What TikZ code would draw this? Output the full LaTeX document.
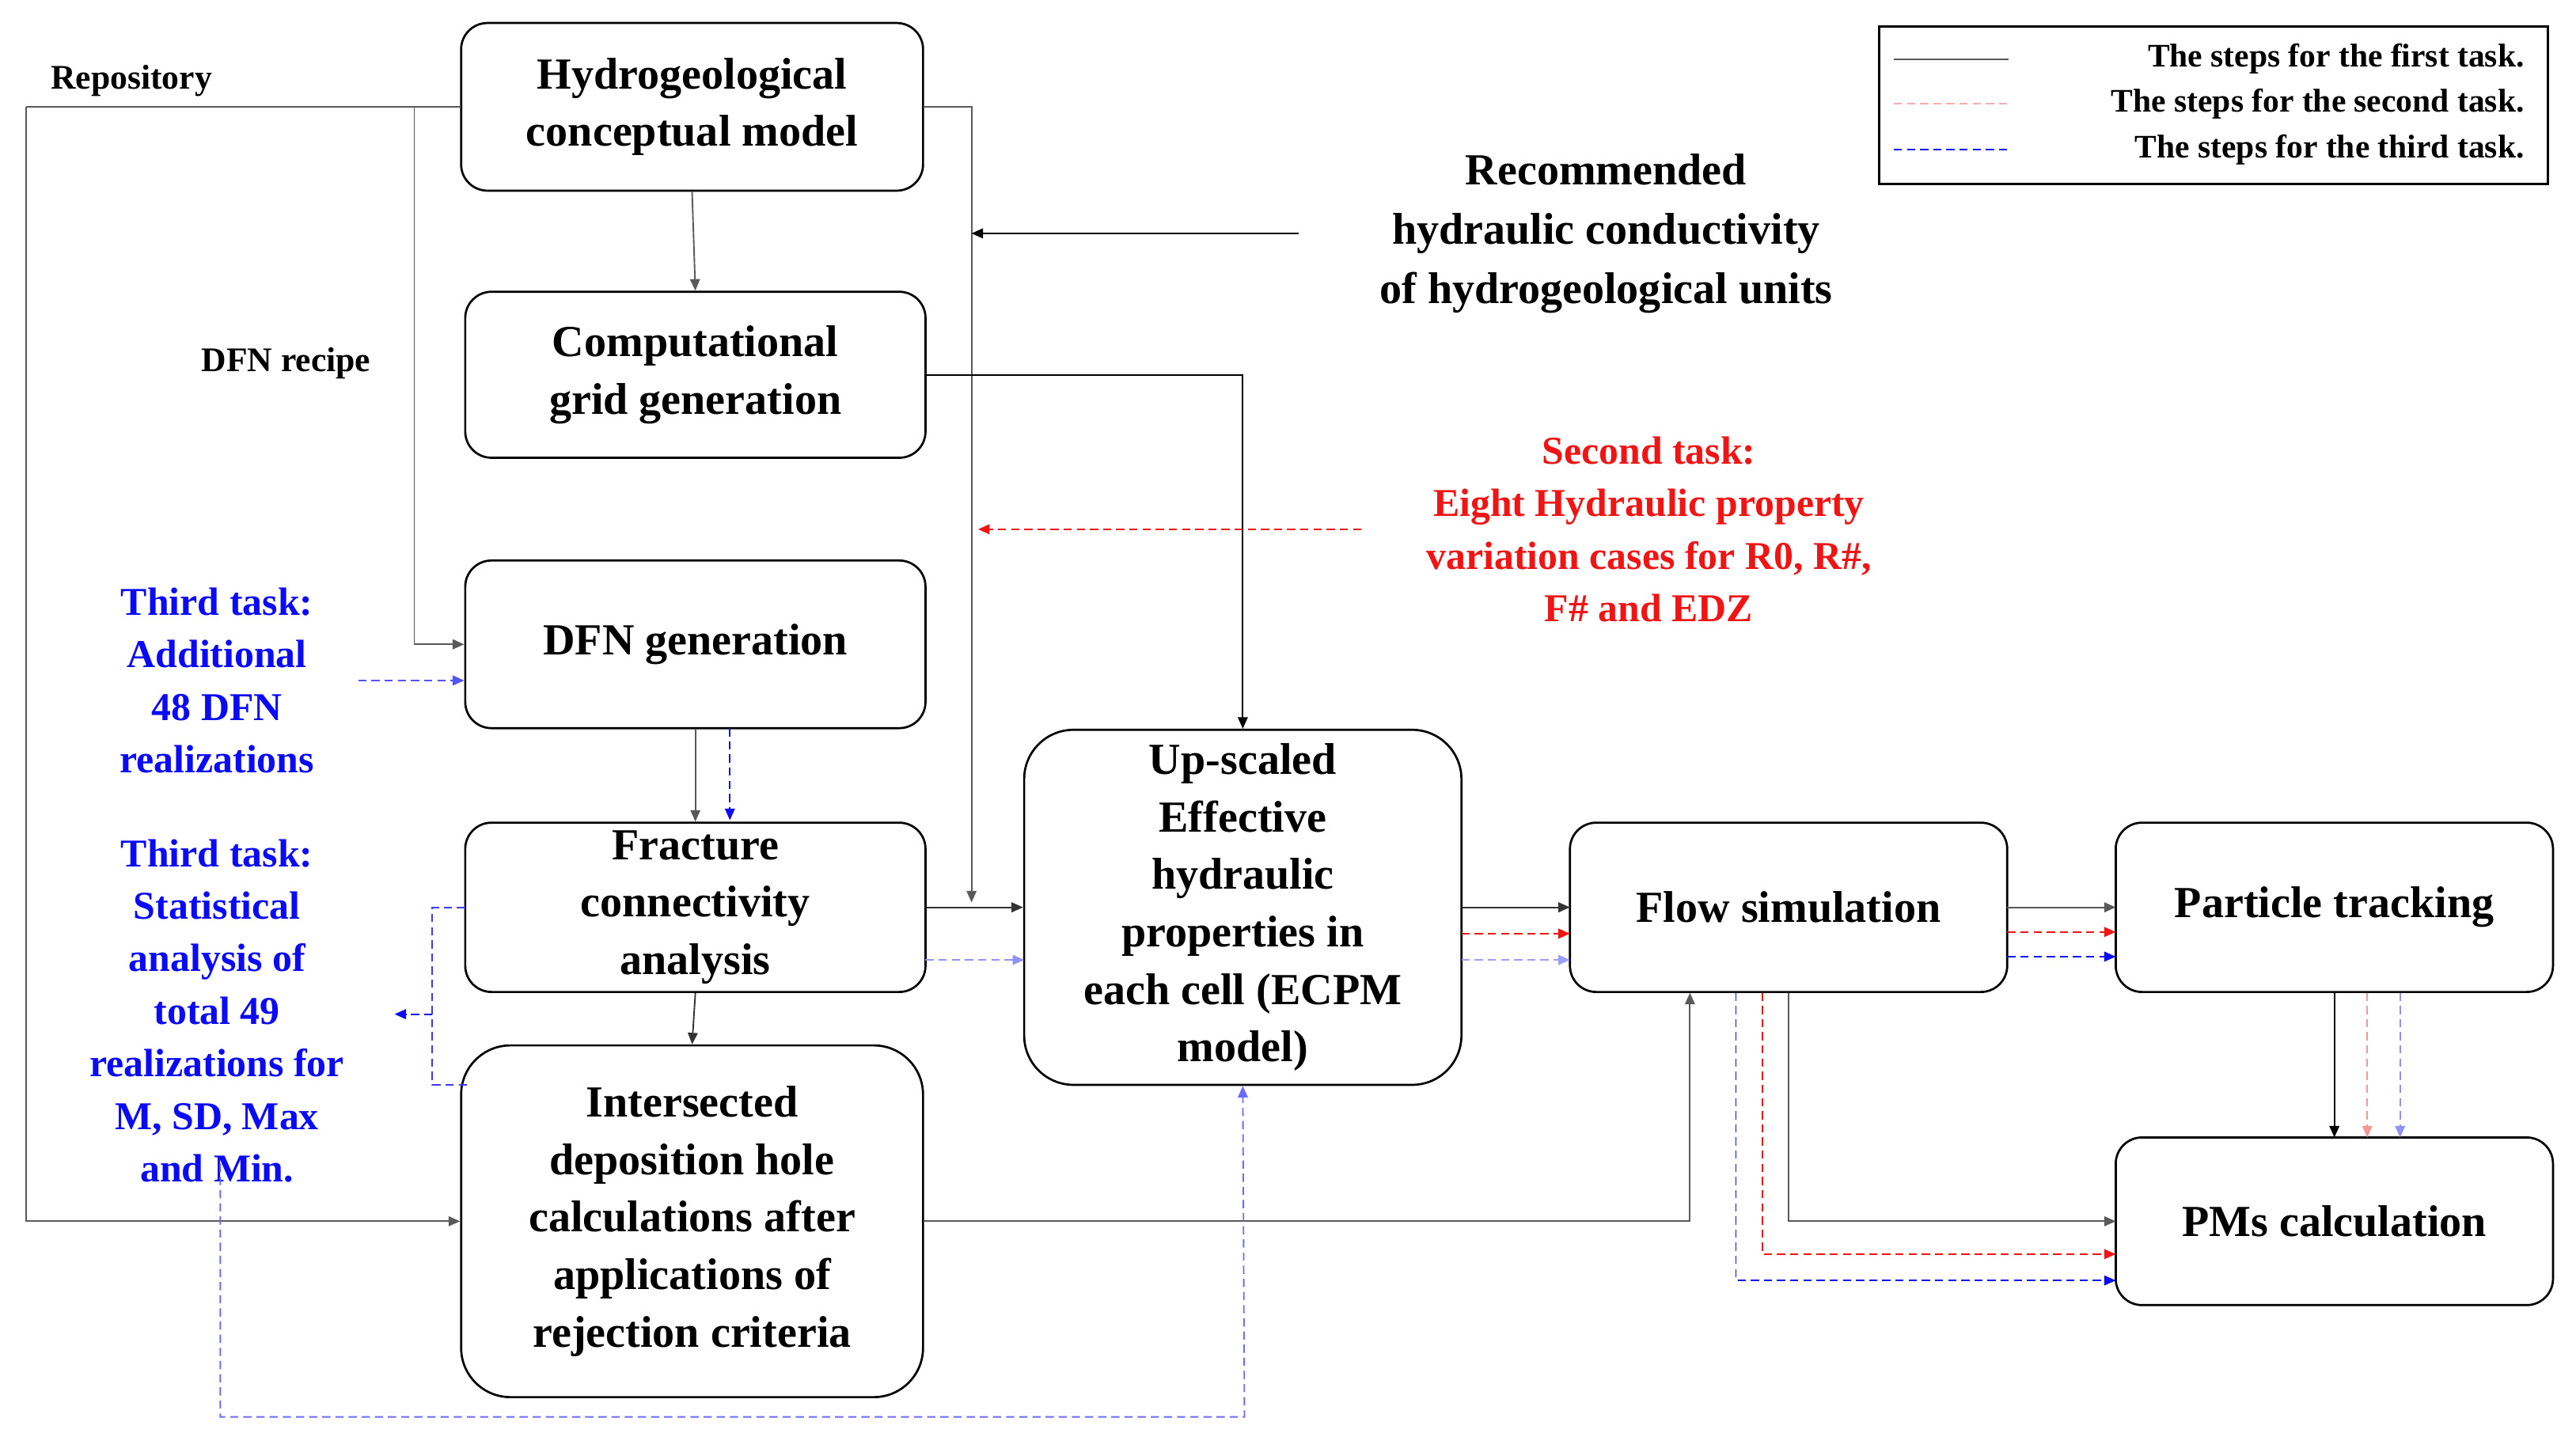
\documentclass[tikz,border=0pt]{standalone}
\usepackage{fontspec}
\setmainfont{Liberation Serif}
\usetikzlibrary{arrows.meta}
\definecolor{bl}{RGB}{10,10,245}
\definecolor{rd}{RGB}{240,20,20}
\begin{document}
\begin{tikzpicture}[x=1pt,y=-1pt,
  box/.style={draw,line width=1.3pt,rounded corners=16pt,align=center,inner sep=0pt,
     font=\fontsize{27}{35}\selectfont\bfseries},
  ln/.style={draw=black!65,line width=0.9pt},
  bd/.style={draw=bl,line width=0.9pt,dash pattern=on 5pt off 3pt},
  rdd/.style={draw=rd,line width=0.9pt,dash pattern=on 5pt off 3pt},
  ar/.style={-{Triangle[length=7pt,width=6pt]}},
  lab/.style={align=center,font=\fontsize{24}{32}\selectfont\bfseries}]
\useasboundingbox (0,0) rectangle (1567,874);
\node[box,minimum width=281pt,minimum height=102pt] (hcm) at (421,65) {Hydrogeological\\conceptual model};
\node[box,minimum width=280pt,minimum height=101pt] (cgg) at (423,228) {Computational\\grid generation};
\node[box,minimum width=280pt,minimum height=102pt] (dfn) at (423,392) {DFN generation};
\node[box,minimum width=280pt,minimum height=103pt] (fca) at (423,552) {Fracture\\connectivity\\analysis};
\node[box,minimum width=281pt,minimum height=214pt,rounded corners=30pt] (idh) at (421,743) {Intersected\\deposition hole\\calculations after\\applications of\\rejection criteria};
\node[box,minimum width=266pt,minimum height=216pt,rounded corners=30pt] (ups) at (756,552) {Up-scaled\\Effective\\hydraulic\\properties in\\each cell (ECPM\\model)};
\node[box,minimum width=266pt,minimum height=103pt] (flow) at (1088,552) {Flow simulation};
\node[box,minimum width=266pt,minimum height=103pt] (pt) at (1420,552) {Particle tracking};
\node[box,minimum width=266pt,minimum height=102pt] (pms) at (1420,743) {PMs calculation};
% texts
\node[font=\fontsize{21}{26}\selectfont\bfseries] (repo) at (80,49) {Repository};
\node[font=\fontsize{21}{26}\selectfont\bfseries] (recipe) at (174,221) {DFN recipe};
\node[lab,font=\fontsize{27}{36}\selectfont\bfseries] (rec) at (977,142) {Recommended\\hydraulic conductivity\\of hydrogeological units};
\node[lab,text=rd] (sec) at (1003,322) {Second task:\\Eight Hydraulic property\\variation cases for R0, R\#,\\F\# and EDZ};
\node[lab,text=bl] (t3a) at (132,414) {Third task:\\Additional\\48 DFN\\realizations};
\node[lab,text=bl] (t3b) at (132,615) {Third task:\\Statistical\\analysis of\\total 49\\realizations for\\M, SD, Max\\and Min.};
% legend
\node[draw,line width=1.3pt,minimum width=407pt,minimum height=96pt,inner sep=0pt] (leg) at (1346.5,64) {};
\coordinate (l1a) at (1152,36); \coordinate (l1b) at (1222,36);
\coordinate (l2a) at (1152,63); \coordinate (l2b) at (1222,63);
\coordinate (l3a) at (1152,91); \coordinate (l3b) at (1222,91);
\draw[ln] (l1a) -- (l1b);
\draw[rdd,draw=rd!35] (l2a) -- (l2b);
\draw[bd] (l3a) -- (l3b);
\node[anchor=east,font=\fontsize{20}{24}\selectfont\bfseries] (lt1) at (1539,36) {The steps for the first task.};
\node[anchor=east,font=\fontsize{20}{24}\selectfont\bfseries] (lt2) at (1539,63) {The steps for the second task.};
\node[anchor=east,font=\fontsize{20}{24}\selectfont\bfseries] (lt3) at (1539,91) {The steps for the third task.};
% repository lines
\coordinate (r0) at (16,65); \coordinate (r1) at (252,65); \coordinate (rr) at (591,65);
\coordinate (rr2) at (591,549);
\draw[ln] (r0) -- (hcm.west);
\draw[ln,ar] (r0) -- (16,743) -- (idh.west);
\draw[ln,ar] (r1) |- (dfn.west);
\draw[ln,ar] (hcm.east) -- (rr) -- (rr2);
\draw[ln,ar] (hcm.south) -- (cgg.north);
\draw[draw=black,line width=0.9pt,ar] (790,142) -- (591,142);
\draw[draw=black,line width=0.9pt,ar] (cgg.east) -| (ups.north);
\draw[rdd,ar] (828,322) -- (595,322);
\draw[bd,draw=bl!70,ar] (218,414) -- (dfn.west |- 0,414);
\draw[ln,ar] (dfn.south) -- (fca.north);
\draw[bd,ar] (444,443) -- (444,499);
\draw[ln,draw=black!80,ar] (fca.east) -- (ups.west);
\draw[bd,draw=bl!45,ar] (563,584) -- (623,584);
\draw[bd,draw=bl!80] (283,552) -- (263,552) -- (263,660) -- (285,660);
\draw[bd,ar] (263,617) -- (240,617);
\draw[ln,draw=black!80,ar] (fca.south) -- (idh.north);
\draw[ln,ar] (idh.east) -- (1028,743) -- (1028,604);
\draw[bd,draw=bl!60,ar] (134,708) -- (134,862) -- (757,862) -- (ups.south);
% ups -> flow
\draw[ln,draw=black!80,ar] (889,552) -- (955,552);
\draw[rdd,ar] (889,568) -- (955,568);
\draw[bd,draw=bl!40,ar] (889,584) -- (955,584);
% flow -> pt
\draw[ln,ar] (1221,552) -- (1287,552);
\draw[rdd,ar] (1221,567) -- (1287,567);
\draw[bd,ar] (1221,582) -- (1287,582);
% pt -> pms
\draw[draw=black,line width=0.9pt,ar] (1420,604) -- (1420,692);
\draw[rdd,draw=rd!45,ar] (1440,604) -- (1440,692);
\draw[bd,draw=bl!45,ar] (1460,604) -- (1460,692);
% flow -> pms
\draw[ln,ar] (1088,604) |- (1287,743);
\draw[rdd,ar] (1072,604) |- (1287,763);
\draw[bd,ar] (1056,604) |- (1287,779);
\end{tikzpicture}
\end{document}
